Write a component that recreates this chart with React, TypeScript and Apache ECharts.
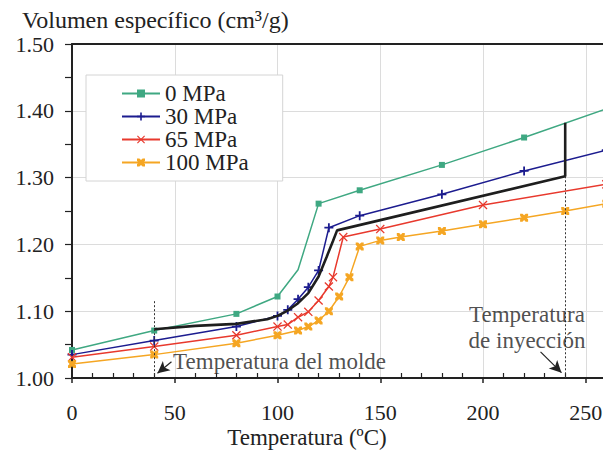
import React, { useEffect, useRef, useState } from 'react';
import * as echarts from 'echarts';

const FONT = 'Liberation Serif';

const seriesNames = ['0 MPa', '30 MPa', '65 MPa', '100 MPa'];
const seriesColors = ['#3fa882', '#1c1c8f', '#e8392d', '#f5a623'];

const temps0 = [0, 40, 80, 100, 110, 120, 140, 180, 220, 260];
const vol0 = [1.042, 1.071, 1.096, 1.122, 1.162, 1.261, 1.281, 1.319, 1.36, 1.403];
const temps30 = [0, 40, 80, 100, 105, 110, 115, 120, 125, 140, 180, 220, 260];
const vol30 = [1.035, 1.056, 1.077, 1.093, 1.102, 1.118, 1.136, 1.161, 1.225, 1.243, 1.275, 1.31, 1.341];
const temps65 = [0, 40, 80, 100, 105, 110, 115, 120, 125, 127, 132, 150, 200, 260];
const vol65 = [1.031, 1.047, 1.064, 1.077, 1.08, 1.091, 1.099, 1.116, 1.137, 1.151, 1.211, 1.223, 1.259, 1.29];
const temps100 = [0, 40, 80, 100, 110, 115, 120, 125, 130, 135, 140, 150, 160, 180, 200, 220, 240, 260];
const vol100 = [1.021, 1.035, 1.052, 1.064, 1.071, 1.077, 1.086, 1.1, 1.122, 1.151, 1.197, 1.206, 1.211, 1.22, 1.23, 1.24, 1.25, 1.261];

const pvtT = [40, 60, 80, 95, 100, 105, 110, 115, 120, 124, 127, 129, 240, 240];
const pvtV = [1.073, 1.078, 1.081, 1.088, 1.093, 1.101, 1.112, 1.127, 1.152, 1.182, 1.205, 1.221, 1.302, 1.382];

const xTicks = [0, 50, 100, 150, 200, 250];
const yTicks = [1.0, 1.1, 1.2, 1.3, 1.4, 1.5];

const moldLine = [[40, 1.115], [40, 1.0]];
const injLine = [[240, 1.302], [240, 1.0]];
const moldArrow = [[48.4, 1.0244], [41.6, 1.007]];
const injArrow = [[228, 1.039], [238.2, 1.008]];
const moldLabel = { text: 'Temperatura del molde', at: [49.2, 1.025] };
const injLabel = { text: 'Temperatura\nde inyección', at: [221.4, 1.076] };

const titleText = 'Volumen específico (cm³/g)';
const xName = 'Temperatura (ºC)';

const SYM_SQUARE = 'rect';
const SYM_PLUS = 'path://M4,0H6V4H10V6H6V10H4V6H0V4H4Z';
const SYM_X = 'path://M1,0L5,4L9,0L10,1L6,5L10,9L9,10L5,6L1,10L0,9L4,5L0,1Z';
const SYM_STAR = 'path://M0,0H3L5,2L7,0H10V3L8,5L10,7V10H7L5,8L3,10H0V7L2,5L0,3Z';

const symbols = [SYM_SQUARE, SYM_PLUS, SYM_X, SYM_STAR];
const symbolSizes = [6, 9, 9, 8];
const temps = [temps0, temps30, temps65, temps100];
const vols = [vol0, vol30, vol65, vol100];

function zip(a: number[], b: number[]) {
  return a.map((v, i) => [v, b[i]]);
}

function buildOption(): any {
  const dataSeries = seriesNames.map((name, i) => ({
    name,
    type: 'line',
    xAxisIndex: 0,
    yAxisIndex: 0,
    data: zip(temps[i], vols[i]).map((p) =>
      i === 0 && p[0] === 110 ? { value: p, symbol: 'none' } : p
    ),
    symbol: symbols[i],
    symbolSize: symbolSizes[i],
    showAllSymbol: true,
    lineStyle: { color: seriesColors[i], width: 1.5 },
    itemStyle: { color: seriesColors[i] },
    z: 3,
  }));
  return {
    animation: false,
    backgroundColor: '#ffffff',
    textStyle: { fontFamily: FONT },
    grid: { left: 72, top: 44, width: 616.5, height: 334, containLabel: false, outerBoundsMode: 'none' },
    legend: {
      data: seriesNames,
      orient: 'vertical',
      left: 86,
      top: 75,
      padding: [7, 34, 7, 35],
      itemGap: 0,
      itemWidth: 38,
      itemHeight: 10,
      backgroundColor: '#ffffff',
      borderColor: '#d4d4d4',
      borderWidth: 1,
      borderRadius: 0,
      textStyle: { fontFamily: FONT, fontSize: 23, color: '#222', lineHeight: 22.7 },
    },
    xAxis: [
      {
        type: 'value',
        position: 'bottom',
        min: 0,
        max: 300,
        interval: 50,
        axisLine: { show: true, lineStyle: { color: '#222', width: 2 } },
        axisTick: { show: true, inside: false, length: 5, lineStyle: { color: '#222', width: 1.5 } },
        minorTick: { show: true, splitNumber: 5, length: -5, lineStyle: { color: '#222', width: 1.2 } },
        axisLabel: {
          margin: 23,
          fontFamily: FONT,
          fontSize: 22,
          color: '#222',
          formatter: (v: number) => (xTicks.includes(v) ? String(v) : ''),
        },
        splitLine: { show: true, lineStyle: { color: '#dcdcdc', width: 1 } },
      },
      {
        type: 'value',
        position: 'top',
        min: 0,
        max: 300,
        axisLine: { show: true, lineStyle: { color: '#222', width: 2 } },
        axisTick: { show: false },
        axisLabel: { show: false },
        splitLine: { show: false },
      },
    ],
    yAxis: {
      type: 'value',
      min: 1.0,
      max: 1.5,
      interval: 0.1,
      axisLine: { show: true, lineStyle: { color: '#222', width: 2 } },
      axisTick: { show: true, inside: false, length: 7, lineStyle: { color: '#222', width: 1.2 } },
      minorTick: { show: true, splitNumber: 2, length: 7, lineStyle: { color: '#222', width: 1.2 } },
      axisLabel: {
        margin: 18,
        fontFamily: FONT,
        fontSize: 22,
        color: '#222',
        formatter: (v: number) => {
          const r = Math.round(v * 100) / 100;
          return yTicks.some((t) => Math.abs(t - r) < 1e-6) ? r.toFixed(2) : '';
        },
      },
      splitLine: { show: true, lineStyle: { color: '#dcdcdc', width: 1 } },
    },
    series: [
      ...dataSeries,
      {
        name: 'pvt',
        type: 'line',
        data: zip(pvtT, pvtV),
        symbol: 'none',
        smooth: false,
        lineStyle: { color: '#1e1e1e', width: 2.6 },
        z: 4,
        markLine: {
          silent: true,
          symbol: ['none', 'none'],
          label: { show: false },
          lineStyle: { color: '#333', width: 1, type: [2, 2] },
          data: [
            [{ coord: moldLine[0] }, { coord: moldLine[1] }],
            [{ coord: injLine[0] }, { coord: injLine[1] }],
            [
              { coord: moldArrow[0], symbol: 'none', lineStyle: { type: 'solid', color: '#222', width: 1.2 } },
              { coord: moldArrow[1], symbol: 'arrow', symbolSize: [9, 12] },
            ],
            [
              { coord: injArrow[0], symbol: 'none', lineStyle: { type: 'solid', color: '#222', width: 1.2 } },
              { coord: injArrow[1], symbol: 'arrow', symbolSize: [9, 12] },
            ],
          ],
        },
      },
      {
        name: 'labels',
        type: 'scatter',
        symbolSize: 0,
        silent: true,
        data: [
          {
            value: moldLabel.at,
            label: {
              show: true,
              position: 'right',
              distance: 0,
              formatter: moldLabel.text,
              fontFamily: FONT,
              fontSize: 23,
              color: '#222',
            },
          },
          {
            value: injLabel.at,
            label: {
              show: true,
              position: 'inside',
              formatter: injLabel.text,
              fontFamily: FONT,
              fontSize: 23,
              lineHeight: 26,
              align: 'center',
              color: '#222',
            },
          },
        ],
        z: 5,
      },
    ],
    graphic: [
      {
        type: 'text',
        left: 22,
        top: 8,
        style: { text: titleText, fontFamily: FONT, fontSize: 24, fill: '#222' },
      },
      {
        type: 'text',
        x: 307,
        y: 437,
        style: {
          text: xName,
          fontFamily: FONT,
          fontSize: 23,
          fill: '#222',
          align: 'center',
          verticalAlign: 'middle',
        },
      },
    ],
  };
}

export default function App() {
  const ref = useRef<HTMLDivElement>(null);
  const [, setReady] = useState(0);
  useEffect(() => {
    if (!ref.current) return;
    const chart = echarts.init(ref.current, undefined, { renderer: 'svg' });
    chart.setOption(buildOption());
    setReady(1);
    const fontsReady = (document as any).fonts && (document as any).fonts.ready;
    if (fontsReady) {
      fontsReady.then(() => {
        if (!chart.isDisposed()) {
          chart.setOption(buildOption(), true);
          setReady(2);
        }
      });
    }
    return () => chart.dispose();
  }, []);
  return (
    <div
      ref={ref}
      style={{ position: 'fixed', left: 0, top: 0, width: 603, height: 452, background: '#fff' }}
    />
  );
}
